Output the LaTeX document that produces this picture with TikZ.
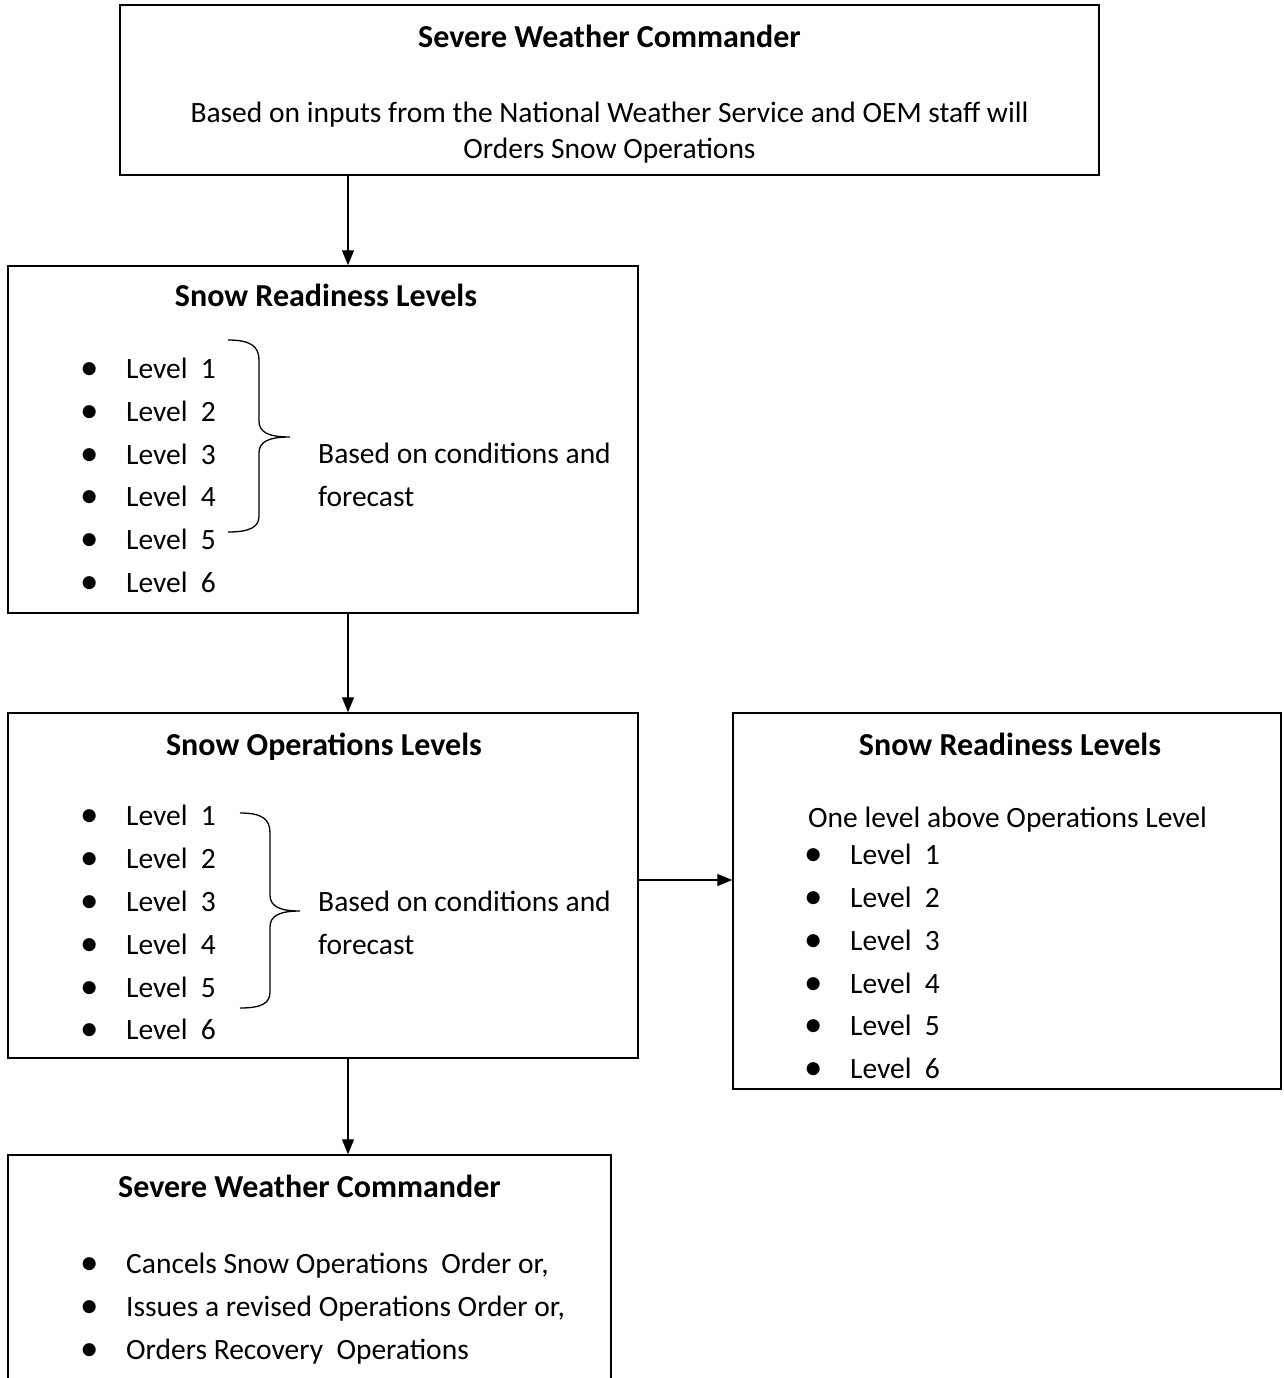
\documentclass[tikz,border=0pt]{standalone}
\usepackage{fontspec}
\setmainfont{Carlito}
\usetikzlibrary{arrows.meta}
\definecolor{lineblack}{HTML}{000000}
\definecolor{pagewhite}{HTML}{FFFFFF}
\newcommand{\figuretext}{\fontsize{29.5}{43}\selectfont}
\newcommand{\headtext}{\fontsize{32}{38}\selectfont\bfseries}
\newcommand{\bul}{\makebox[47pt][l]{\hspace{1pt}\raisebox{-0.05em}{\scalebox{1.25}{\textbullet}}}}

\begin{document}
\begin{tikzpicture}[x=1pt,y=-1pt,font=\figuretext,
  panel/.style={draw=lineblack,fill=pagewhite,line width=1.5pt,inner sep=0pt},
  heading/.style={anchor=base,inner sep=0pt,font=\headtext},
  item/.style={anchor=base west,inner sep=0pt},
  note/.style={anchor=west,align=left,inner sep=0pt},
  flow/.style={-{Triangle[length=15pt,width=12pt]},line width=1.3pt,color=lineblack},
  bracket/.style={line width=1.3pt,color=lineblack}]
\clip (0,0) rectangle (1283,1378);
\fill[pagewhite] (0,0) rectangle (1283,1378);

\node[panel,minimum width=979pt,minimum height=170pt] (cmd) at (609.5,90) {};
\node[panel,minimum width=630pt,minimum height=347pt] (ready) at (323,439.5) {};
\node[panel,minimum width=630pt,minimum height=345pt] (ops) at (323,885.5) {};
\node[panel,minimum width=548pt,minimum height=376pt] (side) at (1007,901) {};
\node[panel,minimum width=603pt,minimum height=265pt] (close) at (309.5,1287.5) {};

\node[heading] (cmdtitle) at (609.5,48) {Severe Weather Commander};
\node[align=center,inner sep=0pt,font=\fontsize{29.5}{36}\selectfont] (cmdtext) at (609.5,133) {Based on inputs from the National Weather Service and OEM staff will\\Orders Snow Operations};

\node[heading] (readtitle) at (326,306) {Snow Readiness Levels};
\node[item] (read1) at (79,378) {\bul Level~~1};
\node[item] (read2) at (79,421) {\bul Level~~2};
\node[item] (read3) at (79,464) {\bul Level~~3};
\node[item] (read4) at (79,506) {\bul Level~~4};
\node[item] (read5) at (79,549) {\bul Level~~5};
\node[item] (read6) at (79,592) {\bul Level~~6};
\draw[bracket] (228,340) .. controls (250,340) and (259,346) .. (259,360) -- (259,421) .. controls (259,432) and (268,437) .. (290,437) .. controls (268,437) and (259,442) .. (259,453) -- (259,516) .. controls (259,527) and (250,532) .. (228,532);
\node[note] (readnote) at (318,475) {Based on conditions and\\forecast};

\node[heading] (opstitle) at (324,755) {Snow Operations Levels};
\node[item] (ops1) at (79,825) {\bul Level~~1};
\node[item] (ops2) at (79,868) {\bul Level~~2};
\node[item] (ops3) at (79,911) {\bul Level~~3};
\node[item] (ops4) at (79,954) {\bul Level~~4};
\node[item] (ops5) at (79,997) {\bul Level~~5};
\node[item] (ops6) at (79,1039) {\bul Level~~6};
\draw[bracket] (240,813) .. controls (262,813) and (270,819) .. (270,833) -- (270,895) .. controls (270,906) and (279,911) .. (300,911) .. controls (279,911) and (270,916) .. (270,927) -- (270,992) .. controls (270,1003) and (262,1008) .. (240,1008);
\node[note] (opsnote) at (318,923) {Based on conditions and\\forecast};

\node[heading] (sidetitle) at (1010,755) {Snow Readiness Levels};
\node[item] (sidenote) at (808,827) {One level above Operations Level};
\node[item] (side1) at (803,864) {\bul Level~~1};
\node[item] (side2) at (803,907) {\bul Level~~2};
\node[item] (side3) at (803,950) {\bul Level~~3};
\node[item] (side4) at (803,993) {\bul Level~~4};
\node[item] (side5) at (803,1035) {\bul Level~~5};
\node[item] (side6) at (803,1078) {\bul Level~~6};

\node[heading] (closetitle) at (309.5,1197) {Severe Weather Commander};
\node[item] (close1) at (79,1273) {\bul Cancels Snow Operations~~Order or,};
\node[item] (close2) at (79,1316) {\bul Issues a revised Operations Order or,};
\node[item] (close3) at (79,1359) {\bul Orders Recovery~~Operations};

\coordinate (spine) at (348,0);
\coordinate (sidelink) at (0,880);
\draw[flow] (cmd.south -| spine) -- (ready.north -| spine);
\draw[flow] (ready.south -| spine) -- (ops.north -| spine);
\draw[flow] (ops.south -| spine) -- (close.north -| spine);
\draw[flow] (ops.east |- sidelink) -- (side.west |- sidelink);
\end{tikzpicture}
\end{document}
